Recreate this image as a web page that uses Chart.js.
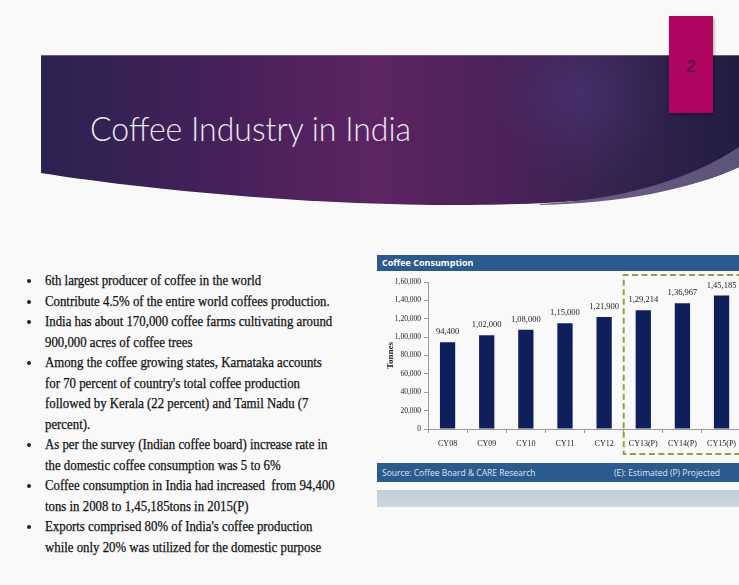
<!DOCTYPE html>
<html>
<head>
<meta charset="utf-8">
<script src="https://cdn.jsdelivr.net/npm/chart.js@4.4.1/dist/chart.umd.min.js"></script>
<style>
  html, body { margin:0; padding:0; width:739px; height:585px; overflow:hidden; background:#f9f9f9; }
  #slide { position:absolute; left:0; top:0; width:739px; height:585px; overflow:hidden; background:#f9f9f9; }
  #banner { position:absolute; left:0; top:0; }
  #pagebox { position:absolute; left:669px; top:16px; width:44px; height:97px; background:#ae0660; box-shadow:1px 2px 3px rgba(0,0,0,0.35); }
  #pagenum { position:absolute; left:0; top:41px; width:44px; text-align:center; font:17px "Liberation Sans", sans-serif; color:#4e0830; }
  #title { position:absolute; left:90px; top:108px; font:300 33px Lato, "Open Sans", sans-serif; color:#ece8f2; white-space:nowrap; transform-origin:0 0; transform:scaleX(0.97); }
  #bullets { position:absolute; left:0; top:270px; font:14px "Liberation Serif", "Times New Roman", serif; color:#111; -webkit-text-stroke:0.25px #111; }
  .ln { position:absolute; white-space:nowrap; transform-origin:0 50%; transform:scaleX(0.915); left:45px; height:20px; line-height:20px; }
  .dot { position:absolute; left:27px; width:4px; height:4px; border-radius:2px; background:#222; }
  #hdr { position:absolute; left:377px; top:255px; width:370px; height:16px; background:#2b5a8f; color:#fff; font:bold 9px "Open Sans", "Liberation Sans", sans-serif; line-height:16px; padding-left:5px; box-sizing:border-box; }
  #ftr { position:absolute; left:377px; top:463px; width:370px; height:19px; background:#2b5a8f; color:#dfe7f1; font:8.5px "Open Sans", "Liberation Sans", sans-serif; line-height:19px; }
  #ftr span { position:absolute; top:0; }
  #refl { position:absolute; left:377px; top:490px; width:370px; height:17px; background:linear-gradient(#c3ccd9,#cfd6e0); }
  #chartBox { position:absolute; left:370px; top:272px; width:372px; height:184px; }
</style>
</head>
<body>
<div id="slide">
  <svg id="banner" width="739" height="230" viewBox="0 0 739 230">
    <defs>
      <linearGradient id="bg" x1="41" y1="0" x2="739" y2="0" gradientUnits="userSpaceOnUse">
        <stop offset="0" stop-color="#2a2250"/>
        <stop offset="0.25" stop-color="#45205a"/>
        <stop offset="0.48" stop-color="#5c2462"/>
        <stop offset="0.68" stop-color="#4a2158"/>
        <stop offset="0.8" stop-color="#37244f"/>
        <stop offset="1" stop-color="#221c42"/>
      </linearGradient>
      <radialGradient id="hl" cx="580" cy="95" r="90" gradientUnits="userSpaceOnUse">
        <stop offset="0" stop-color="#4a3274" stop-opacity="0.7"/>
        <stop offset="1" stop-color="#4a3274" stop-opacity="0"/>
      </radialGradient>
      <linearGradient id="wg" x1="560" y1="0" x2="739" y2="0" gradientUnits="userSpaceOnUse">
        <stop offset="0" stop-color="#6e5a86"/>
        <stop offset="1" stop-color="#5c5479"/>
      </linearGradient>
    </defs>
    <path d="M41,55 L739,55 L739,167 C690,190 610,204 470,205 C330,206 160,192 41,173 Z" fill="url(#bg)"/>
    <path d="M41,55 L739,55 L739,167 C690,190 610,204 470,205 C330,206 160,192 41,173 Z" fill="url(#hl)"/>
    <path d="M540,204 C620,200 690,180 739,147 L739,167 C690,190 620,203 540,205 Z" fill="url(#wg)"/>
    <line x1="41" y1="55.5" x2="739" y2="55.5" stroke="#6b5a86" stroke-width="1"/>
  </svg>
  <div id="title">Coffee Industry in India</div>
  <div id="pagebox"><div id="pagenum">2</div></div>

  <div id="bullets"></div>

  <div id="hdr">Coffee Consumption</div>
  <div id="chartBox"><canvas id="c"></canvas></div>
  <div id="ftr"><span style="left:5px">Source: Coffee Board &amp; CARE Research</span><span style="left:237px">(E): Estimated (P) Projected</span></div>
  <div id="refl"></div>
</div>

<script>
// ---------- data ----------
const categories = ['CY08','CY09','CY10','CY11','CY12','CY13(P)','CY14(P)','CY15(P)'];
const consumption = [94400, 102000, 108000, 115000, 121900, 129214, 136967, 145185];
const valueLabels = ['94,400','1,02,000','1,08,000','1,15,000','1,21,900','1,29,214','1,36,967','1,45,185'];
const yTickLabels = ['0','20,000','40,000','60,000','80,000','1,00,000','1,20,000','1,40,000','1,60,000'];
const projectedFrom = 5; // index of first projected category

const bulletLines = [
  ['6th largest producer of coffee in the world'],
  ['Contribute 4.5% of the entire world coffees production.'],
  ['India has about 170,000 coffee farms cultivating around', '900,000 acres of coffee trees'],
  ['Among the coffee growing states, Karnataka accounts', 'for 70 percent of country\'s total coffee production', 'followed by Kerala (22 percent) and Tamil Nadu (7', 'percent).'],
  ['As per the survey (Indian coffee board) increase rate in', 'the domestic coffee consumption was 5 to 6%'],
  ['Coffee consumption in India had increased\u00a0 from 94,400', 'tons in 2008 to 1,45,185tons in 2015(P)'],
  ['Exports comprised 80% of India\'s coffee production', 'while only 20% was utilized for the domestic purpose']
];

// ---------- bullets ----------
(function(){
  const box = document.getElementById('bullets');
  const lineH = 20.5;
  let row = 0;
  bulletLines.forEach(lines => {
    const d = document.createElement('div');
    d.className = 'dot';
    d.style.top = (row * lineH + 9) + 'px';
    box.appendChild(d);
    lines.forEach(t => {
      const l = document.createElement('div');
      l.className = 'ln';
      l.style.top = (row * lineH + 1) + 'px';
      l.textContent = t;
      box.appendChild(l);
      row++;
    });
  });
})();

// ---------- chart ----------
const serif = '"Liberation Serif", serif';
const barLabelPlugin = {
  id: 'barLabels',
  afterDatasetsDraw(chart) {
    const ctx = chart.ctx;
    const meta = chart.getDatasetMeta(0);
    ctx.save();
    ctx.font = '8.5px ' + serif;
    ctx.fillStyle = '#1a1a1a';
    ctx.textAlign = 'center';
    ctx.textBaseline = 'bottom';
    meta.data.forEach((bar, i) => {
      ctx.fillText(valueLabels[i], bar.x, bar.y - 6);
    });
    ctx.restore();
  }
};

const projectedBoxPlugin = {
  id: 'projBox',
  afterDraw(chart) {
    const ctx = chart.ctx;
    const xs = chart.scales.x;
    const area = chart.chartArea;
    const left = (xs.getPixelForValue(projectedFrom - 1) + xs.getPixelForValue(projectedFrom)) / 2;
    const top = area.top - 7;
    const bottom = area.bottom + 25;
    const right = chart.width + 10;
    ctx.save();
    ctx.strokeStyle = '#8aa53a';
    ctx.lineWidth = 2;
    ctx.setLineDash([6, 3.5]);
    ctx.beginPath();
    ctx.moveTo(right, top);
    ctx.lineTo(left, top);
    ctx.lineTo(left, bottom);
    ctx.lineTo(right, bottom);
    ctx.stroke();
    ctx.restore();
  }
};

new Chart(document.getElementById('c'), {
  type: 'bar',
  data: {
    labels: categories,
    datasets: [{
      data: consumption,
      backgroundColor: '#0f1f5c',
      borderWidth: 0,
      barPercentage: 0.39,
      categoryPercentage: 1.0
    }]
  },
  options: {
    responsive: true,
    maintainAspectRatio: false,
    animation: false,
    events: [],
    layout: { padding: { top: 10, right: 0, left: 0, bottom: 0 } },
    plugins: { legend: { display: false }, tooltip: { enabled: false } },
    scales: {
      x: {
        offset: true,
        grid: { display: true, drawOnChartArea: false, drawTicks: true, tickLength: 4, color: '#9a9a9a', offset: true },
        border: { display: true, color: '#9a9a9a' },
        ticks: { color: '#1a1a1a', font: { family: serif, size: 8 }, padding: 6, maxRotation: 0, autoSkip: false },
        afterFit: s => { s.height = 27; }
      },
      y: {
        min: 0, max: 160000,
        grid: { display: true, drawOnChartArea: false, drawTicks: true, tickLength: 4, color: '#9a9a9a' },
        border: { display: true, color: '#9a9a9a' },
        ticks: { stepSize: 20000, color: '#1a1a1a', font: { family: serif, size: 7.5 }, padding: 3,
                 callback: (v, i) => yTickLabels[i] },
        title: { display: true, text: 'Tonnes', color: '#222', font: { family: serif, size: 9, weight: 'bold' }, padding: { top: 15, bottom: 0 } },
        afterFit: s => { s.width = 58; }
      }
    }
  },
  plugins: [barLabelPlugin, projectedBoxPlugin]
});
</script>
</body>
</html>
